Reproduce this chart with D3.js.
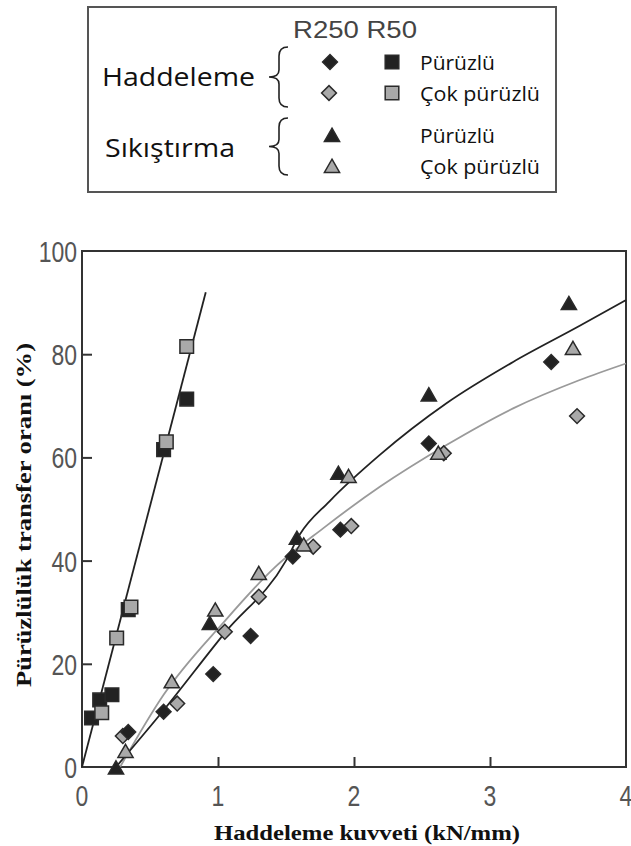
<!DOCTYPE html>
<html>
<head>
<meta charset="utf-8">
<script src="https://cdn.jsdelivr.net/npm/d3@7"></script>
<style>
  html, body { margin: 0; padding: 0; background: #fff; }
  svg { display: block; }
</style>
</head>
<body>
<svg id="chart" width="631" height="846"></svg>
<script>
// ---------------- DATA ----------------
// Haddeleme (rolling) R250 = diamonds, R50 = squares; Sıkıştırma (pressing) = triangles
const xTicks = [0, 1, 2, 3, 4];
const yTicks = [0, 20, 40, 60, 80, 100];

// R50 Pürüzlü (black squares)
const r50Rough = [[0.07, 9.5], [0.13, 13.0], [0.22, 14.0], [0.34, 30.5], [0.60, 61.5], [0.77, 71.3]];
// R50 Çok pürüzlü (gray squares)
const r50VeryRough = [[0.145, 10.5], [0.255, 25.0], [0.36, 31.0], [0.62, 63.0], [0.77, 81.5]];
// R250 Pürüzlü (black diamonds)
const r250Rough = [[0.34, 6.8], [0.60, 10.7], [0.965, 18.0], [1.24, 25.4], [1.55, 40.8], [1.90, 46.0], [2.55, 62.7], [3.45, 78.5]];
// R250 Çok pürüzlü (gray diamonds)
const r250VeryRough = [[0.30, 6.0], [0.70, 12.3], [1.05, 26.2], [1.30, 33.0], [1.70, 42.7], [1.98, 46.7], [2.66, 60.8], [3.64, 68.0]];
// Sıkıştırma Pürüzlü (black triangles)
const pressRough = [[0.25, -0.5], [0.94, 27.5], [1.58, 44.0], [1.885, 56.6], [2.55, 71.8], [3.58, 89.5]];
// Sıkıştırma Çok pürüzlü (gray triangles)
const pressVeryRough = [[0.32, 2.7], [0.66, 16.2], [0.98, 30.1], [1.30, 37.2], [1.63, 42.7], [1.96, 56.0], [2.62, 60.5], [3.61, 80.8]];

// fitted curves
const fitSteep = [[0.0, 0.0], [0.91, 92.0]];
const fitBlack = [[0.25, 0.0], [0.60, 11.0], [1.05, 26.0], [1.50, 40.0], [1.60, 45.0], [1.82, 51.5], [2.19, 60.5], [2.68, 70.5], [3.17, 78.5], [3.66, 85.5], [4.0, 90.5]];
const fitGray = [[0.28, 0.0], [0.60, 14.0], [1.04, 28.0], [1.41, 38.5], [1.775, 46.3], [2.19, 54.3], [2.68, 62.4], [3.17, 69.5], [3.66, 75.0], [4.0, 78.2]];

// legend texts
const legendHeader = "R250 R50";
const legendGroups = ["Haddeleme", "Sıkıştırma"];
const legendLabels = ["Pürüzlü", "Çok pürüzlü", "Pürüzlü", "Çok pürüzlü"];
const xTitle = "Haddeleme kuvveti (kN/mm)";
const yTitle = "Pürüzlülük transfer oranı (%)";

// ---------------- DRAW ----------------
const svg = d3.select("#chart");
const BLACK = "#222", GRAY = "#a9a9a9", EDGE = "#2a2a2a";
const pL = 82, pR = 626, pT = 251, pB = 767;
const x = d3.scaleLinear().domain([0, 4]).range([pL, pR]);
const y = d3.scaleLinear().domain([0, 100]).range([pB, pT]);

// plot frame
svg.append("rect").attr("x", pL).attr("y", pT).attr("width", pR - pL).attr("height", pB - pT)
  .attr("fill", "none").attr("stroke", "#333").attr("stroke-width", 2);

// axes (inward ticks, labels drawn separately)
const xAxis = d3.axisBottom(x).tickValues(xTicks.slice(1, -1)).tickSize(-10).tickFormat("");
svg.append("g").attr("transform", `translate(0,${pB})`).call(xAxis)
  .call(g => g.select(".domain").remove())
  .call(g => g.selectAll("line").attr("stroke", "#333").attr("stroke-width", 2));
const yAxis = d3.axisLeft(y).tickValues(yTicks.slice(1, -1)).tickSize(-10).tickFormat("");
svg.append("g").attr("transform", `translate(${pL},0)`).call(yAxis)
  .call(g => g.select(".domain").remove())
  .call(g => g.selectAll("line").attr("stroke", "#333").attr("stroke-width", 2));

// tick labels (vertically stretched like reference)
const tickFont = "'Liberation Sans', Arial, sans-serif";
svg.append("g").selectAll("text").data(xTicks).join("text")
  .attr("transform", d => `translate(${x(d)},806) scale(1,1.3)`)
  .attr("text-anchor", "middle").attr("font-family", tickFont).attr("font-size", 23)
  .attr("fill", "#555").text(d => d);
svg.append("g").selectAll("text").data(yTicks).join("text")
  .attr("transform", d => `translate(77,${y(d) + 11}) scale(1,1.3)`)
  .attr("text-anchor", "end").attr("font-family", tickFont).attr("font-size", 23)
  .attr("fill", "#555").text(d => d);

// axis titles
const titleFont = "'Liberation Serif', 'Times New Roman', serif";
svg.append("text").attr("x", 367).attr("y", 840).attr("text-anchor", "middle")
  .attr("font-family", titleFont).attr("font-weight", "bold").attr("font-size", 20)
  .attr("textLength", 306).attr("lengthAdjust", "spacingAndGlyphs")
  .attr("fill", "#111").text(xTitle);
svg.append("text").attr("transform", "translate(31,515) rotate(-90)").attr("text-anchor", "middle")
  .attr("font-family", titleFont).attr("font-weight", "bold").attr("font-size", 20)
  .attr("textLength", 344).attr("lengthAdjust", "spacingAndGlyphs")
  .attr("fill", "#111").text(yTitle);

// fit lines
const line = d3.line().x(d => x(d[0])).y(d => y(d[1])).curve(d3.curveMonotoneX);
const plot = svg.append("g");
plot.append("path").datum(fitGray).attr("d", line).attr("fill", "none").attr("stroke", "#9a9a9a").attr("stroke-width", 1.8);
plot.append("path").datum(fitBlack).attr("d", line).attr("fill", "none").attr("stroke", BLACK).attr("stroke-width", 1.8);
plot.append("path").datum(fitSteep).attr("d", line).attr("fill", "none").attr("stroke", BLACK).attr("stroke-width", 1.8);

// markers
const squareSym = d3.symbol().type(d3.symbolSquare).size(185);
const diamondSym = d3.symbol().type(d3.symbolSquare).size(110);
const triSym = d3.symbol().type(d3.symbolTriangle).size(100);
function drawMarkers(data, sym, fill, rot) {
  plot.append("g").selectAll("path").data(data).join("path")
    .attr("d", sym())
    .attr("transform", d => `translate(${x(d[0])},${y(d[1])}) rotate(${rot})`)
    .attr("fill", fill).attr("stroke", EDGE).attr("stroke-width", 1.5);
}
drawMarkers(r250VeryRough, diamondSym, GRAY, 45);
drawMarkers(r250Rough, diamondSym, BLACK, 45);
drawMarkers(pressRough, triSym, BLACK, 0);
drawMarkers(pressVeryRough, triSym, GRAY, 0);
drawMarkers(r50Rough, squareSym, BLACK, 0);
drawMarkers(r50VeryRough, squareSym, GRAY, 0);

// ---------------- LEGEND ----------------
const leg = svg.append("g");
leg.append("rect").attr("x", 88).attr("y", 7).attr("width", 468).attr("height", 185)
  .attr("fill", "#fff").attr("stroke", "#555").attr("stroke-width", 2);
leg.append("text").attr("x", 293).attr("y", 38).attr("font-family", tickFont).attr("font-size", 23)
  .attr("textLength", 124).attr("lengthAdjust", "spacingAndGlyphs").attr("fill", "#444").text(legendHeader);
const legFont = "'Open Sans', 'Noto Sans', sans-serif";
leg.append("text").attr("x", 102).attr("y", 86).attr("font-family", legFont).attr("font-size", 25)
  .attr("textLength", 153).attr("lengthAdjust", "spacingAndGlyphs").attr("fill", "#111").text(legendGroups[0]);
leg.append("text").attr("x", 105).attr("y", 157).attr("font-family", legFont).attr("font-size", 25)
  .attr("textLength", 130).attr("lengthAdjust", "spacingAndGlyphs").attr("fill", "#111").text(legendGroups[1]);
function brace(y0, y1) {
  const xm = 279, xt = 269, xr = 288, ym = (y0 + y1) / 2;
  return `M${xr},${y0} Q${xm},${y0} ${xm},${y0 + 9} L${xm},${ym - 7} Q${xm},${ym} ${xt},${ym} ` +
         `Q${xm},${ym} ${xm},${ym + 7} L${xm},${y1 - 9} Q${xm},${y1} ${xr},${y1}`;
}
leg.append("path").attr("d", brace(47, 107)).attr("fill", "none").attr("stroke", "#222").attr("stroke-width", 1.6);
leg.append("path").attr("d", brace(118, 175)).attr("fill", "none").attr("stroke", "#222").attr("stroke-width", 1.6);
const legMarkers = [
  {sym: diamondSym, fill: BLACK, rot: 45, cx: 330, cy: 62},
  {sym: squareSym, fill: BLACK, rot: 0, cx: 392, cy: 62},
  {sym: diamondSym, fill: GRAY, rot: 45, cx: 329, cy: 93},
  {sym: squareSym, fill: GRAY, rot: 0, cx: 392, cy: 93},
  {sym: triSym, fill: BLACK, rot: 0, cx: 332, cy: 137},
  {sym: triSym, fill: GRAY, rot: 0, cx: 332, cy: 168}
];
leg.append("g").selectAll("path").data(legMarkers).join("path")
  .attr("d", d => d.sym())
  .attr("transform", d => `translate(${d.cx},${d.cy}) rotate(${d.rot})`)
  .attr("fill", d => d.fill).attr("stroke", EDGE).attr("stroke-width", 1.5);
const labelY = [70, 101, 143, 174];
const labelW = [75, 120, 75, 120];
leg.append("g").selectAll("text").data(legendLabels).join("text")
  .attr("x", 420).attr("y", (d, i) => labelY[i])
  .attr("font-family", legFont).attr("font-size", 20)
  .attr("textLength", (d, i) => labelW[i]).attr("lengthAdjust", "spacingAndGlyphs")
  .attr("fill", "#111").text(d => d);
</script>
</body>
</html>
